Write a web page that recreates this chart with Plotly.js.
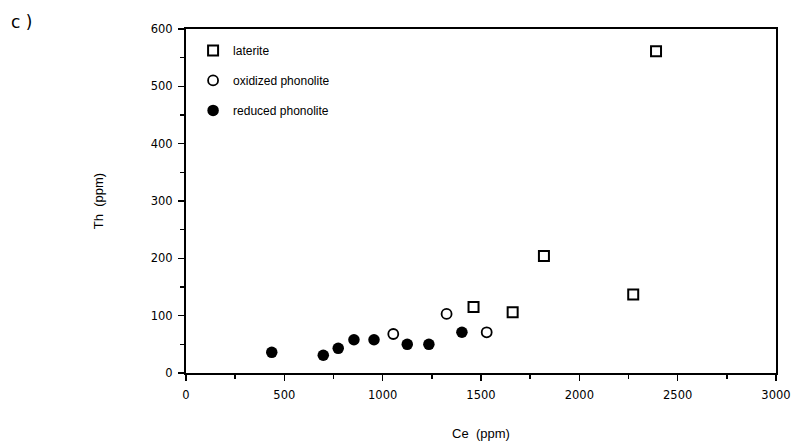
<!DOCTYPE html>
<html>
<head>
<meta charset="utf-8">
<script src="https://cdn.plot.ly/plotly-3.0.1.min.js"></script>
<style>
  html, body { margin: 0; padding: 0; background: #fff; }
  #chart { width: 795px; height: 448px; }
</style>
</head>
<body>
<div id="chart"></div>
<script>
// Ce vs Th (ppm) for laterite and phonolite samples
const lateriteCe = [1462, 1661, 1820, 2274, 2390];
const lateriteTh = [115, 106, 204, 137, 561];

const oxidizedCe = [1054, 1325, 1529];
const oxidizedTh = [68, 103, 71];

const reducedCe = [436, 698, 774, 854, 956, 1125, 1235, 1403];
const reducedTh = [36, 31, 43, 58, 58, 50, 50, 71];

const xTicks = [0, 500, 1000, 1500, 2000, 2500, 3000];
const yTicks = [0, 100, 200, 300, 400, 500, 600];

const FONT = 'Liberation Sans, Arial, sans-serif';
const TICKFONT = 'DejaVu Sans, sans-serif';

const traces = [
  {
    x: lateriteCe, y: lateriteTh, name: 'laterite', legendgroup: 'a',
    type: 'scatter', mode: 'markers', cliponaxis: false,
    marker: { symbol: 'square-open', size: 10, color: '#000', line: { width: 2, color: '#000' } }
  },
  {
    x: oxidizedCe, y: oxidizedTh, name: 'oxidized phonolite', legendgroup: 'b',
    type: 'scatter', mode: 'markers', cliponaxis: false,
    marker: { symbol: 'circle-open', size: 10, color: '#000', line: { width: 1.8, color: '#000' } }
  },
  {
    x: reducedCe, y: reducedTh, name: 'reduced phonolite', legendgroup: 'c',
    type: 'scatter', mode: 'markers', cliponaxis: false,
    marker: { symbol: 'circle', size: 11.5, color: '#000' }
  }
];

const axisCommon = {
  showgrid: false, zeroline: false, showline: true, mirror: true,
  linecolor: '#000', linewidth: 2, ticks: 'outside', ticklen: 6, tickwidth: 1.5,
  tickcolor: '#000', tickfont: { family: TICKFONT, size: 11.5, color: '#000' },
  fixedrange: true, automargin: false
};

const layout = {
  width: 795, height: 448,
  margin: { l: 186, r: 19, t: 29, b: 75 },
  paper_bgcolor: '#fff', plot_bgcolor: '#fff',
  font: { family: FONT, color: '#000' },
  showlegend: true,
  legend: {
    x: 0.012, y: 0.98, xanchor: 'left', yanchor: 'top',
    bgcolor: 'rgba(0,0,0,0)', borderwidth: 0,
    font: { family: FONT, size: 12, color: '#000' },
    tracegroupgap: 11, itemwidth: 30
  },
  xaxis: Object.assign({}, axisCommon, {
    range: [0, 3000], tickvals: xTicks, ticktext: xTicks.map(String),
    ticklabelstandoff: 4,
    minor: { dtick: 250, ticks: 'outside', ticklen: 4, tickcolor: '#000' },
    title: { text: 'Ce  (ppm)', standoff: 28, font: { family: FONT, size: 13, color: '#000' } }
  }),
  yaxis: Object.assign({}, axisCommon, {
    range: [0, 600], tickvals: yTicks, ticktext: yTicks.map(String),
    ticklabelstandoff: 3,
    minor: { dtick: 50, ticks: 'outside', ticklen: 4, tickcolor: '#000' },
    title: { text: 'Th  (ppm)', standoff: 44, font: { family: FONT, size: 13, color: '#000' } }
  }),
  annotations: [
    { text: 'c )', xref: 'paper', yref: 'paper', x: (9 - 186) / 590, y: 1 + (29 - 22) / 344,
      xanchor: 'left', yanchor: 'middle', showarrow: false,
      font: { family: 'DejaVu Sans, sans-serif', size: 17, color: '#000' } }
  ]
};

Plotly.newPlot('chart', traces, layout, { staticPlot: true, displayModeBar: false });
</script>
</body>
</html>
